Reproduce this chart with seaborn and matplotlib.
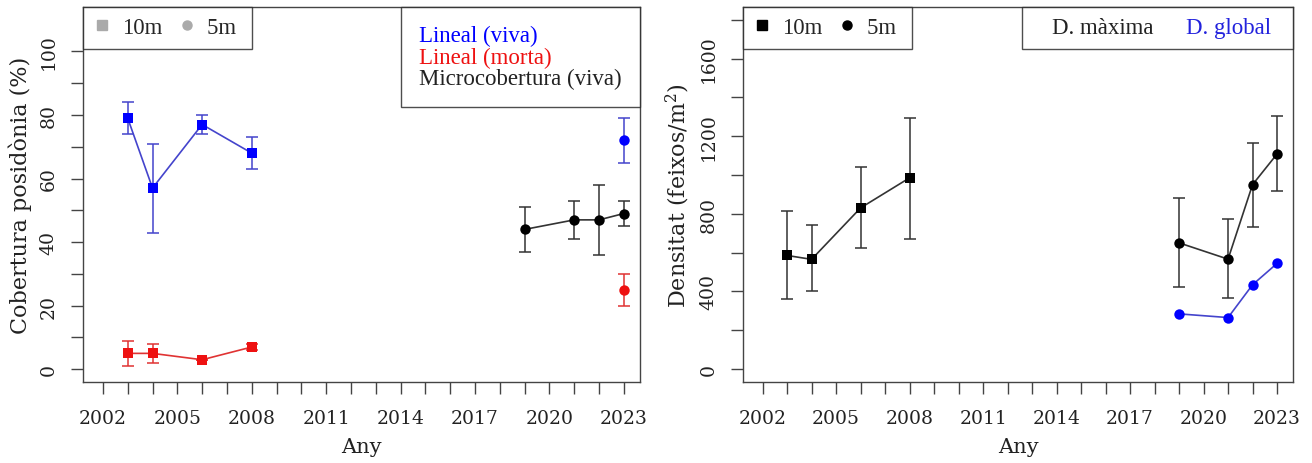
import numpy as np
import pandas as pd
import matplotlib
matplotlib.use("Agg")
import matplotlib.pyplot as plt
import seaborn as sns
from matplotlib.lines import Line2D

sns.set_style("ticks")
plt.rcParams['font.family'] = ['DejaVu Serif', 'Liberation Serif']
plt.rcParams['mathtext.default'] = 'regular'

# ---- cobertura (left panel) ----
viva10_any = [2003, 2004, 2006, 2008]
viva10_val = [79, 57, 77, 68]
viva10_lo = [74, 43, 74, 63]
viva10_hi = [84, 71, 80, 73]

viva5_any = [2023]
viva5_val = [72]
viva5_lo = [65]
viva5_hi = [79]

morta10_any = [2003, 2004, 2006, 2008]
morta10_val = [5, 5, 3, 7]
morta10_lo = [1, 2, 3, 6]
morta10_hi = [9, 8, 3, 8]

morta5_any = [2023]
morta5_val = [25]
morta5_lo = [20]
morta5_hi = [30]

micro5_any = [2019, 2021, 2022, 2023]
micro5_val = [44, 47, 47, 49]
micro5_lo = [37, 41, 36, 45]
micro5_hi = [51, 53, 58, 53]

# ---- densitat (right panel) ----
dmax10_any = [2003, 2004, 2006, 2008]
dmax10_val = [585, 565, 830, 985]
dmax10_lo = [360, 400, 625, 668]
dmax10_hi = [815, 742, 1040, 1295]

dmax5_any = [2019, 2021, 2022, 2023]
dmax5_val = [650, 566, 950, 1108]
dmax5_lo = [420, 366, 734, 918]
dmax5_hi = [881, 771, 1164, 1306]

dglob5_any = [2019, 2021, 2022, 2023]
dglob5_val = [284, 265, 434, 544]

BLUE = '#0000ff'
RED = '#ee1111'
BLACK = '#000000'
LEG_FONT = ['Liberation Serif', 'DejaVu Serif']


def serie(ax, anys, vals, color, marker, lo=None, hi=None, lcolor=None, ms=7.5):
    df = pd.DataFrame({'any': anys, 'val': vals})
    lc = lcolor if lcolor else color
    if lo is not None:
        ax.errorbar(anys, vals,
                    yerr=[np.array(vals) - np.array(lo), np.array(hi) - np.array(vals)],
                    fmt='none', ecolor=lc, elinewidth=1.1, capsize=4, capthick=1.1, zorder=2)
    if len(anys) > 1:
        sns.lineplot(data=df, x='any', y='val', ax=ax, color=lc, lw=1.2, zorder=3)
    sns.scatterplot(data=df, x='any', y='val', ax=ax, color=color, marker=marker,
                    s=ms ** 2, edgecolor=color, linewidth=0, zorder=4)


def estil(ax, ylim, yticks, yminor):
    ax.set_xlim(2001.2, 2023.65)
    ax.set_ylim(*ylim)
    ax.set_xticks(np.arange(2002, 2024, 3))
    ax.set_xticks(np.arange(2002, 2024, 1), minor=True)
    ax.set_yticks(yticks)
    ax.set_yticklabels([str(v) for v in yticks])
    ax.set_yticks(yminor, minor=True)
    ax.tick_params(axis='both', which='both', direction='out', length=8.5, width=1,
                   color='#444444', labelsize=13.5, pad=11, labelcolor='#222222')
    ax.tick_params(axis='y', labelrotation=90, pad=10)
    for t in ax.get_yticklabels():
        t.set_va('center')
    for s in ax.spines.values():
        s.set_visible(True)
        s.set_color('#444444')
        s.set_linewidth(1)
    ax.set_xlabel('Any', fontsize=15, labelpad=7, color='#222222')


def llegenda_prof(ax, color):
    h = [Line2D([], [], ls='none', marker='s', ms=6.5, color=color),
         Line2D([], [], ls='none', marker='o', ms=6.5, color=color)]
    lg = ax.legend(h, ['10m', '5m '], loc='upper left', ncol=2, frameon=True,
                   fancybox=False, edgecolor='#222222', borderaxespad=0,
                   prop={'family': LEG_FONT, 'size': 16.5},
                   handlelength=0.75, handletextpad=0.5, columnspacing=0.7, borderpad=0.45)
    lg.get_frame().set_linewidth(1)
    ax.add_artist(lg)
    return lg


fig = plt.figure(figsize=(13.12, 4.64), dpi=100)
ax1 = fig.add_axes([0.0633, 0.1746, 0.4245, 0.8084])
ax2 = fig.add_axes([0.5663, 0.1746, 0.4192, 0.8084])

# left
serie(ax1, viva10_any, viva10_val, BLUE, 's', viva10_lo, viva10_hi, lcolor='#4444cc')
serie(ax1, viva5_any, viva5_val, BLUE, 'o', viva5_lo, viva5_hi, lcolor='#4444cc')
serie(ax1, morta10_any, morta10_val, RED, 's', morta10_lo, morta10_hi, lcolor='#e03333')
serie(ax1, morta5_any, morta5_val, RED, 'o', morta5_lo, morta5_hi, lcolor='#e03333')
serie(ax1, micro5_any, micro5_val, BLACK, 'o', micro5_lo, micro5_hi, lcolor='#333333')
estil(ax1, (-4, 114), [0, 20, 40, 60, 80, 100], [10, 30, 50, 70, 90])
ax1.set_ylabel('Cobertura posidònia (%)', fontsize=16, labelpad=5, color='#222222')

llegenda_prof(ax1, '#aaaaaa')
h_none = [Line2D([], [], ls='none') for _ in range(3)]
lg2 = ax1.legend(h_none, ['Lineal (viva)', 'Lineal (morta)', 'Microcobertura (viva)'],
                 loc='upper right', frameon=True, fancybox=False, edgecolor='#222222',
                 prop={'family': LEG_FONT, 'size': 16.5}, borderaxespad=0,
                 handlelength=0, handletextpad=0,
                 labelcolor=[BLUE, RED, '#222222'], labelspacing=0.0, borderpad=0.8)
lg2.get_frame().set_linewidth(1)

# right
serie(ax2, dmax10_any, dmax10_val, BLACK, 's', dmax10_lo, dmax10_hi, lcolor='#333333')
serie(ax2, dmax5_any, dmax5_val, BLACK, 'o', dmax5_lo, dmax5_hi, lcolor='#333333')
serie(ax2, dglob5_any, dglob5_val, BLUE, 'o', lcolor='#4444cc')
estil(ax2, (-67, 1866), [0, 400, 800, 1200, 1600], [200, 600, 1000, 1400, 1800])
ax2.set_ylabel('Densitat (feixos/m$^{2}$)', fontsize=16, labelpad=5, color='#222222')

llegenda_prof(ax2, BLACK)
h_none2 = [Line2D([], [], ls='none') for _ in range(2)]
lg4 = ax2.legend(h_none2, ['D. màxima', 'D. global  '], loc='upper right', ncol=2,
                 frameon=True, fancybox=False, edgecolor='#222222',
                 prop={'family': LEG_FONT, 'size': 16.5},
                 borderaxespad=0, handlelength=0.9, handletextpad=0, columnspacing=0.5,
                 labelcolor=['#222222', '#2222dd'], borderpad=0.45)
lg4.get_frame().set_linewidth(1)

fig.savefig('out.png', dpi=100)
